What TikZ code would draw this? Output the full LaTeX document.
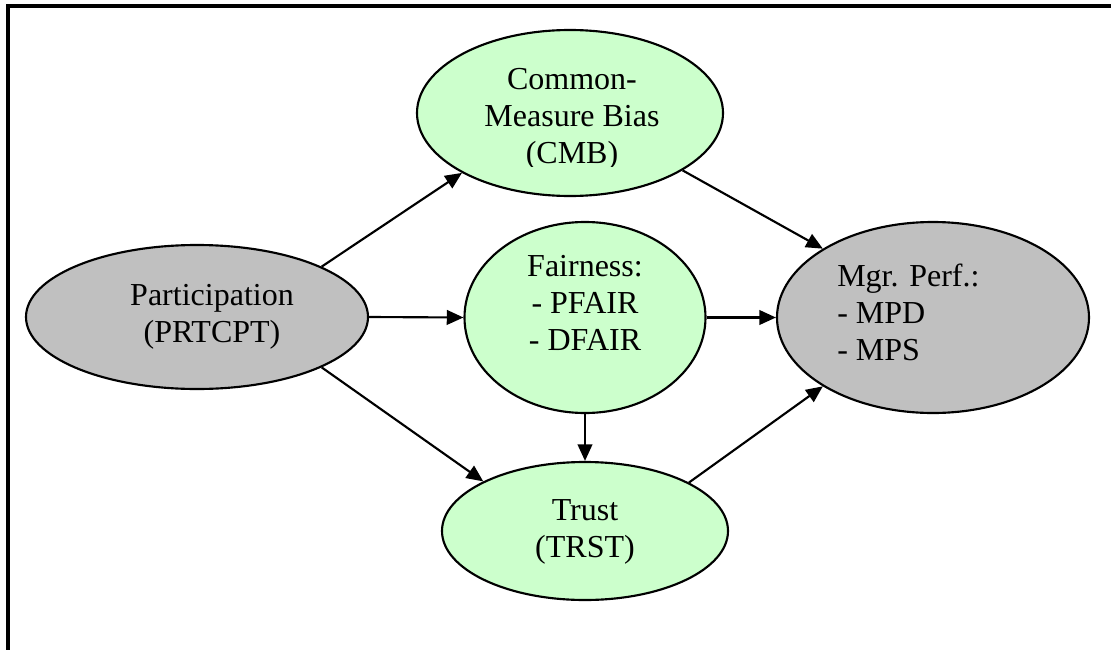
\documentclass[tikz,border=0pt]{standalone}
\usepackage{fontspec}
\setmainfont{Liberation Serif}
\usetikzlibrary{shapes.geometric,arrows.meta}
\definecolor{palegreen}{HTML}{CCFFCC}
\definecolor{midgrey}{HTML}{C0C0C0}
\begin{document}
\begin{tikzpicture}[x=0.75pt,y=-0.75pt,
  blob/.style={ellipse,draw=black,line width=1.6pt,inner sep=0pt},
  greenblob/.style={blob,fill=palegreen},
  greyblob/.style={blob,fill=midgrey},
  caption/.style={font=\fontsize{24}{27.4}\selectfont,inner sep=0pt,anchor=base},
  link/.style={line width=1.6pt,-{Triangle[length=12.5pt,width=11pt]}}]
\useasboundingbox (0,0) rectangle (1111,650);
% frame along the top and left edges
\draw[line width=2.4pt] (8,650) -- (8,6) -- (1111,6);

% variables
\node[greenblob,minimum width=229.5pt,minimum height=124.5pt] (cmb) at (570,113) {};
\node[greyblob,minimum width=256.5pt,minimum height=108pt] (part) at (197,317) {};
\node[greenblob,minimum width=180.75pt,minimum height=143.25pt] (fair) at (585,317.5) {};
\node[greenblob,minimum width=214.5pt,minimum height=103.5pt] (trust) at (585,531) {};
\node[greyblob,minimum width=234pt,minimum height=143.25pt] (mgr) at (933,317.5) {};

% labels (base anchor sits on the last line)
\begin{scope}
  \clip (417,30) rectangle (723,166);
  \node[caption,align=center] (cmbtext) at (572,163) {Common-\\Measure Bias\\(CMB)};
\end{scope}
\node[caption,align=center] (parttext) at (212,342) {Participation\\(PRTCPT)};
\node[caption,align=center] (fairtext) at (585,350) {Fairness:\\- PFAIR\\- DFAIR};
\node[caption,align=center] (trusttext) at (585,557) {Trust\\(TRST)};
\node[caption,align=left,anchor=base west] (mgrtext) at (837,360) {Mgr. Perf.:\\- MPD\\- MPS};

% paths
\draw[link] (part.22) -- (cmb.209);
\draw[link] (part.east) -- (fair.west);
\draw[link] (part.-22) -- (trust.154.6);
\draw[link] (cmb.-27.6) -- (mgr.148);
\draw[link] (fair.east) -- (mgr.west);
\draw[link] (fair.south) -- (trust.north);
\draw[link] (trust.25.4) -- (mgr.212);
\end{tikzpicture}
\end{document}
